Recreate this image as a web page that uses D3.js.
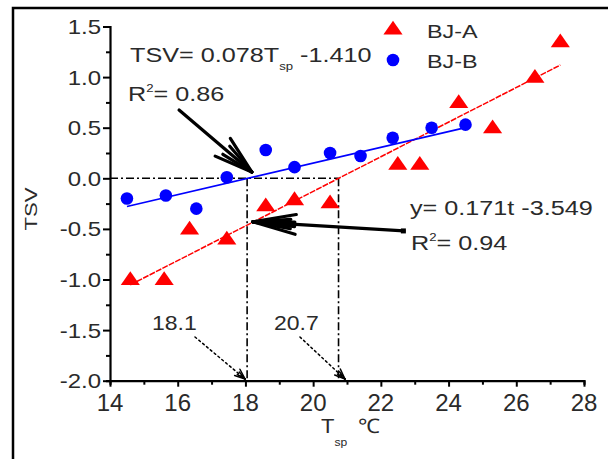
<!DOCTYPE html>
<html><head><meta charset="utf-8">
<script src="https://cdn.jsdelivr.net/npm/d3@7"></script>
<style>html,body{margin:0;padding:0;background:#fff;}svg{display:block;}</style>
</head><body>
<svg id="c" width="608" height="459"></svg>
<script>
// ---- data ----
const seriesNames = ["BJ-A", "BJ-B"];
const bjA_T   = [14.6, 15.6, 16.35, 17.45, 18.6, 19.45, 20.5, 22.5, 23.15, 24.3, 25.3, 26.55, 27.3];
const bjA_TSV = [-1.0, -1.0, -0.5, -0.6, -0.27, -0.21, -0.24, 0.14, 0.14, 0.75, 0.5, 1.0, 1.35];
const bjB_T   = [14.5, 15.65, 16.55, 17.45, 18.6, 19.45, 20.5, 21.4, 22.35, 23.5, 24.5];
const bjB_TSV = [-0.2, -0.17, -0.3, 0.01, 0.28, 0.11, 0.25, 0.22, 0.4, 0.5, 0.53];
const fitA = {slope: 0.171, intercept: -3.549, x0: 14.6, x1: 27.3};
const fitB = {slope: 0.078, intercept: -1.410, x0: 14.5, x1: 24.5};
const crossB = 18.1, crossA = 20.75;
const xTicks = [14, 16, 18, 20, 22, 24, 26, 28];
const xTickLabels = ["14", "16", "18", "20", "22", "24", "26", "28"];
const yTicks = [1.5, 1.0, 0.5, 0.0, -0.5, -1.0, -1.5, -2.0];
const yTickLabels = ["1.5", "1.0", "0.5", "0.0", "-0.5", "-1.0", "-1.5", "-2.0"];

// ---- layout ----
const svg = d3.select("#c");
const x = d3.scaleLinear().domain([14, 28]).range([110, 584]);
const y = d3.scaleLinear().domain([-2, 1.5]).range([380.7, 26.5]);
const FONT = "'Liberation Sans', Arial, sans-serif";
const TXT = "#2a2a2a";

// outer frame
svg.append("path").attr("d", "M13,470 L13,8 L620,8").attr("fill", "none").attr("stroke", "#000").attr("stroke-width", 2.5);

function stext(px, py, sx, size, anchor, parent) {
  return (parent || svg).append("text")
    .attr("transform", `translate(${px},${py}) scale(${sx},1)`)
    .attr("font-family", FONT).attr("font-size", size)
    .attr("fill", TXT).attr("text-anchor", anchor || "start");
}

// axes
const xAxisG = svg.append("g").attr("transform", `translate(0,${y(-2)})`)
  .call(d3.axisBottom(x).tickValues(d3.range(14, 28.01, 1)).tickSize(4).tickFormat(""));
xAxisG.selectAll(".tick line").attr("y2", (d) => (d % 2 === 0 ? 6 : 4)).attr("stroke-width", 2);
xAxisG.select(".domain").attr("stroke-width", 2.2);
const yAxisG = svg.append("g").attr("transform", `translate(${x(14)},0)`)
  .call(d3.axisLeft(y).tickValues(d3.range(-2, 1.51, 0.25)).tickSize(4).tickFormat(""));
yAxisG.selectAll(".tick line").attr("x2", (d) => (Math.abs(d * 2 - Math.round(d * 2)) < 1e-6 ? -7 : -4)).attr("stroke-width", 2);
yAxisG.select(".domain").attr("stroke-width", 2.2);

xTicks.forEach((t, i) => stext(x(t), 411, 1.0, 24, "middle").text(xTickLabels[i]));
yTicks.forEach((t, i) => stext(101, y(t) + 7.5, 1.2, 20, "end").text(yTickLabels[i]));

// axis titles
svg.append("text").attr("transform", `translate(37,209) rotate(-90) scale(1.3,1)`)
  .attr("font-family", FONT).attr("font-size", 17).attr("fill", TXT).attr("text-anchor", "middle").text("TSV");
const xt = stext(321, 433, 1.1, 20, "start");
xt.append("tspan").text("T");
xt.append("tspan").attr("font-size", 11).attr("dy", 13).text("sp");
xt.append("tspan").attr("dy", -13).attr("dx", 10).text("\u2103");

// dash-dot reference lines
const dd = "8,3,2,3";
svg.append("line").attr("x1", x(14)).attr("x2", x(crossA)).attr("y1", y(0)).attr("y2", y(0))
  .attr("stroke", "#000").attr("stroke-width", 1.6).attr("stroke-dasharray", dd);
[crossB - 0.05, crossA].forEach(v => svg.append("line").attr("x1", x(v)).attr("x2", x(v)).attr("y1", y(0)).attr("y2", y(-2))
  .attr("stroke", "#000").attr("stroke-width", 1.6).attr("stroke-dasharray", dd));

// fit lines
svg.append("line").attr("x1", x(fitA.x0)).attr("y1", y(fitA.slope * fitA.x0 + fitA.intercept))
  .attr("x2", x(fitA.x1)).attr("y2", y(fitA.slope * fitA.x1 + fitA.intercept))
  .attr("stroke", "#ff0000").attr("stroke-width", 1.5).attr("stroke-dasharray", "6,1.2");
svg.append("line").attr("x1", x(fitB.x0)).attr("y1", y(fitB.slope * fitB.x0 + fitB.intercept))
  .attr("x2", x(fitB.x1)).attr("y2", y(fitB.slope * fitB.x1 + fitB.intercept))
  .attr("stroke", "#0000ff").attr("stroke-width", 1.6);

// markers
const tri = d3.symbol().type(d3.symbolTriangle).size(110);
svg.append("g").selectAll("path").data(bjA_T.map((t, i) => [t, bjA_TSV[i]])).join("path")
  .attr("d", tri).attr("transform", d => `translate(${x(d[0])},${y(d[1]) + 1}) scale(1.2,1)`).attr("fill", "#ff0000");
svg.append("g").selectAll("circle").data(bjB_T.map((t, i) => [t, bjB_TSV[i]])).join("circle")
  .attr("cx", d => x(d[0])).attr("cy", d => y(d[1])).attr("r", 6.3).attr("fill", "#0000ff");

// legend
svg.append("path").attr("d", tri).attr("transform", `translate(393,30) scale(1.2,1)`).attr("fill", "#ff0000");
svg.append("circle").attr("cx", 393).attr("cy", 60).attr("r", 6.3).attr("fill", "#0000ff");
stext(427, 38, 1.3, 18, "start").text(seriesNames[0]);
stext(427, 68, 1.3, 18, "start").text(seriesNames[1]);

// equations
const e1 = stext(130, 62, 1.2, 21, "start");
e1.append("tspan").text("TSV= 0.078T");
e1.append("tspan").attr("font-size", 11).attr("dy", 8).text("sp");
e1.append("tspan").attr("dy", -8).text(" -1.410");
const r1 = stext(128, 101, 1.2, 21, "start");
r1.append("tspan").text("R");
r1.append("tspan").attr("font-size", 11).attr("dy", -9).text("2");
r1.append("tspan").attr("dy", 9).text("= 0.86");
stext(410, 215, 1.2, 21, "start").text("y= 0.171t -3.549");
const r2 = stext(411, 250, 1.2, 21, "start");
r2.append("tspan").text("R");
r2.append("tspan").attr("font-size", 11).attr("dy", -9).text("2");
r2.append("tspan").attr("dy", 9).text("= 0.94");
stext(152, 330, 1.15, 20, "start").text(String(crossB));
stext(274, 330, 1.15, 20, "start").text("20.7");

// arrows
function arrow(x0, y0, x1, y1, opts) {
  const a = [x(x0), y(y0)], b = [x(x1), y(y1)];
  const g = svg.append("g").attr("stroke", "#000").attr("fill", "none")
    .attr("stroke-width", opts.w).attr("stroke-linecap", "round");
  g.append("line").attr("x1", a[0]).attr("y1", a[1]).attr("x2", b[0]).attr("y2", b[1])
    .attr("stroke-dasharray", opts.dash || null);
  const ang = Math.atan2(a[1] - b[1], a[0] - b[0]);
  opts.barbs.forEach(([deg, len]) => {
    const t = ang + deg * Math.PI / 180;
    g.append("line").attr("x1", b[0]).attr("y1", b[1])
      .attr("x2", b[0] + len * Math.cos(t)).attr("y2", b[1] + len * Math.sin(t));
  });
  return g;
}
arrow(16.04, 0.675, 18.19, 0.062, {w: 3.2, barbs: [[17, 40], [-17, 40], [9, 34], [-9, 34]]});
arrow(22.68, -0.52, 18.22, -0.43, {w: 3.2, barbs: [[13, 44], [-13, 44], [7, 38], [-7, 38], [3, 42], [-3, 42]]});
svg.append("rect").attr("x", x(22.68) - 3).attr("y", y(-0.52) - 2.5).attr("width", 5).attr("height", 5).attr("fill", "#000");
arrow(16.51, -1.568, 17.99, -1.983, {w: 1.5, dash: "2,3", barbs: [[22, 11], [-22, 11], [10, 9], [-10, 9]]});
arrow(19.61, -1.568, 20.94, -1.983, {w: 1.5, dash: "2,3", barbs: [[22, 11], [-22, 11], [10, 9], [-10, 9]]});
</script>
</body></html>
